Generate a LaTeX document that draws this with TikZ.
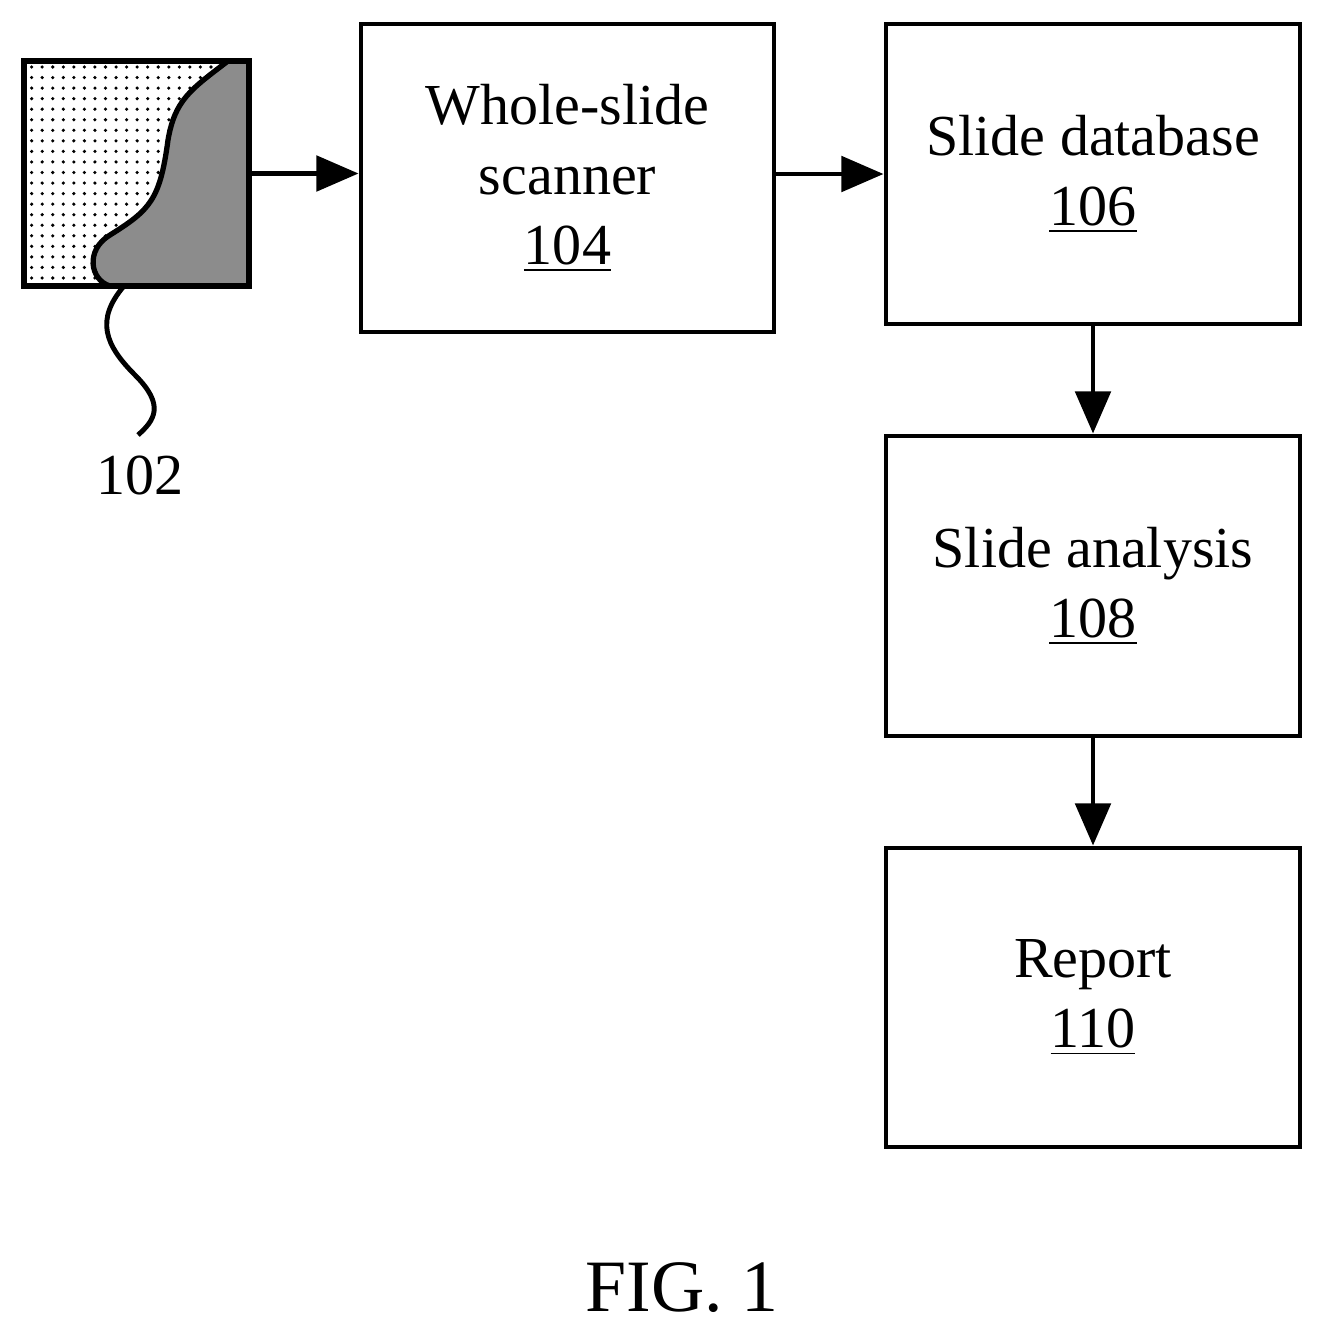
\documentclass[tikz,border=0pt]{standalone}
\usepackage{fontspec}
\setmainfont{Liberation Serif}
\usetikzlibrary{
  arrows.meta,
  patterns
}
\tikzset{
  block/.style={draw, line width=1.4pt, align=center, inner sep=0pt,
    font=\fontsize{16.5}{20}\selectfont},
  flow/.style={-{Triangle[length=12pt,width=10pt]}, line width=1.4pt}
}
\begin{document}
\begin{tikzpicture}[x=0.01cm, y=-0.01cm]
\useasboundingbox (0,0) rectangle (1322,1333);
% slide
\fill[pattern=dots] (24,61) rectangle (249,286);
\fill[black!45] (228,61)
  .. controls (190,90) and (175,100) .. (168,140)
  .. controls (160,200) and (150,210) .. (110,235)
  .. controls (85,250) and (90,280) .. (110,286)
  -- (249,286) -- (249,61) -- cycle;
\draw[line width=1.5pt] (228,61)
  .. controls (190,90) and (175,100) .. (168,140)
  .. controls (160,200) and (150,210) .. (110,235)
  .. controls (85,250) and (90,280) .. (110,286);
\node[draw, line width=1.6pt, minimum width=225*0.01cm, minimum height=225*0.01cm,
  inner sep=0pt] (slide) at (136.5,173.5) {};
\coordinate (tip) at (138,435);
\draw[line width=1.4pt] (124,286) .. controls (95,320) and (105,345) .. (135,375)
  .. controls (165,405) and (155,420) .. (tip);
\node[font=\fontsize{16.5}{20}\selectfont] (l102) at (140,475) {102};
% blocks
\node[block, minimum width=413*0.01cm, minimum height=308*0.01cm] (scanner) at (567.5,178)
  {Whole-slide\\scanner\\\underline{104}};
\node[block, minimum width=414*0.01cm, minimum height=300*0.01cm] (database) at (1093,174)
  {Slide database\\\underline{106}};
\node[block, minimum width=414*0.01cm, minimum height=300*0.01cm] (analysis) at (1093,586)
  {Slide analysis\\\underline{108}};
\node[block, minimum width=414*0.01cm, minimum height=299*0.01cm] (report) at (1093,997.5)
  {Report\\\underline{110}};
\draw[flow] (slide.east) -- (scanner.west |- slide.east);
\draw[flow] (scanner.east |- database.west) -- (database.west);
\draw[flow] (database) -- (analysis);
\draw[flow] (analysis) -- (report);
\node[font=\fontsize{21}{25}\selectfont] (fig) at (682,1288) {FIG. 1};
\end{tikzpicture}
\end{document}
